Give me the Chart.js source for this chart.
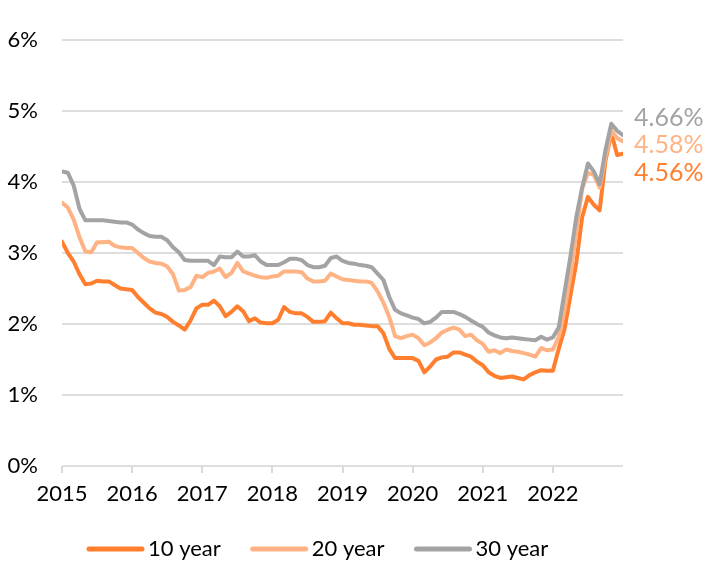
<!DOCTYPE html>
<html>
<head>
<meta charset="utf-8">
<script src="https://cdn.jsdelivr.net/npm/chart.js@4.4.0/dist/chart.umd.min.js"></script>
<style>
  html, body { margin: 0; padding: 0; background: #fff; }
  #wrap { width: 721px; height: 571px; }
</style>
</head>
<body>
<div id="wrap"><canvas id="yieldChart" width="721" height="571"></canvas></div>
<script>
// monthly readings, Jan 2015 .. Dec 2022 (+ closing value)
const startYear = 2015;
const years = [2015, 2016, 2017, 2018, 2019, 2020, 2021, 2022, 2023];
const seriesNames = ['10 year', '20 year', '30 year'];
const seriesColors = ['#FF7F2F', '#FFB384', '#A3A3A3'];

const tenYear = [
  3.16, 3.00, 2.88, 2.70, 2.56, 2.57, 2.61, 2.60, 2.60, 2.55, 2.50, 2.49,
  2.48, 2.38, 2.30, 2.22, 2.16, 2.14, 2.10, 2.03, 1.98, 1.92, 2.05, 2.22,
  2.27, 2.27, 2.33, 2.25, 2.11, 2.17, 2.25, 2.18, 2.04, 2.08, 2.02, 2.01,
  2.01, 2.06, 2.24, 2.17, 2.15, 2.15, 2.10, 2.03, 2.03, 2.04, 2.16, 2.08,
  2.01, 2.01, 1.99, 1.99, 1.98, 1.97, 1.97, 1.87, 1.65, 1.52, 1.52, 1.52,
  1.52, 1.48, 1.32, 1.40, 1.50, 1.53, 1.54, 1.60, 1.60, 1.57, 1.54, 1.47,
  1.42, 1.32, 1.27, 1.24, 1.25, 1.26, 1.24, 1.22, 1.28, 1.32, 1.35, 1.34,
  1.34, 1.65, 1.93, 2.40, 2.86, 3.50, 3.79, 3.68, 3.60, 4.30, 4.69, 4.38,
  4.40
];
const twentyYear = [
  3.71, 3.64, 3.47, 3.22, 3.02, 3.01, 3.15, 3.15, 3.16, 3.10, 3.08, 3.07,
  3.07, 3.00, 2.93, 2.88, 2.86, 2.85, 2.81, 2.70, 2.47, 2.48, 2.52, 2.68,
  2.66, 2.72, 2.74, 2.78, 2.66, 2.72, 2.86, 2.74, 2.71, 2.68, 2.66, 2.65,
  2.67, 2.68, 2.74, 2.74, 2.74, 2.73, 2.64, 2.60, 2.60, 2.61, 2.71, 2.67,
  2.63, 2.62, 2.61, 2.60, 2.60, 2.58, 2.46, 2.30, 2.10, 1.83, 1.80, 1.83,
  1.85, 1.80, 1.70, 1.74, 1.80, 1.88, 1.92, 1.95, 1.92, 1.83, 1.85, 1.77,
  1.72, 1.61, 1.63, 1.59, 1.64, 1.62, 1.61, 1.59, 1.57, 1.54, 1.66, 1.63,
  1.64, 1.82, 2.20, 2.68, 3.29, 3.90, 4.13, 4.10, 3.92, 4.35, 4.72, 4.62,
  4.57
];
const thirtyYear = [
  4.15, 4.13, 3.95, 3.62, 3.46, 3.46, 3.46, 3.46, 3.45, 3.44, 3.43, 3.43,
  3.40, 3.33, 3.28, 3.24, 3.23, 3.23, 3.18, 3.08, 3.01, 2.90, 2.89, 2.89,
  2.89, 2.89, 2.83, 2.95, 2.94, 2.94, 3.02, 2.95, 2.95, 2.97, 2.88, 2.83,
  2.83, 2.83, 2.87, 2.92, 2.92, 2.90, 2.83, 2.80, 2.80, 2.82, 2.93, 2.95,
  2.89, 2.86, 2.85, 2.83, 2.82, 2.80, 2.71, 2.62, 2.38, 2.20, 2.15, 2.12,
  2.09, 2.07, 2.01, 2.03, 2.09, 2.17, 2.17, 2.17, 2.14, 2.10, 2.05, 2.00,
  1.96, 1.88, 1.84, 1.81, 1.80, 1.81, 1.80, 1.79, 1.78, 1.77, 1.82, 1.78,
  1.81, 1.95, 2.45, 2.95, 3.50, 3.92, 4.26, 4.15, 3.97, 4.45, 4.82, 4.72,
  4.66
];
const endLabels = ['4.56%', '4.58%', '4.66%'];
const endLabelAt = [4.13, 4.52, 4.90]; // where the right-hand labels sit (axis value)

const FONT = 'Lato, "Open Sans", sans-serif';

function toPoints(values) {
  return values.map((v, i) => ({ x: startYear + i / 12, y: v }));
}

// right-hand closing values
const endLabelPlugin = {
  id: 'endLabels',
  afterDraw(chart) {
    const ctx = chart.ctx;
    const yScale = chart.scales.y;
    ctx.save();
    ctx.font = '25px ' + FONT;
    ctx.textAlign = 'left';
    ctx.textBaseline = 'middle';
    endLabels.forEach((txt, i) => {
      ctx.fillStyle = seriesColors[i];
      ctx.fillText(txt, chart.chartArea.right + 11, yScale.getPixelForValue(endLabelAt[i]));
    });
    ctx.restore();
  }
};

// legend drawn by hand so the swatch/text gaps match the original
const legendPlugin = {
  id: 'lineLegend',
  afterDraw(chart) {
    const ctx = chart.ctx;
    ctx.save();
    ctx.font = '22px ' + FONT;
    ctx.textBaseline = 'middle';
    ctx.textAlign = 'left';
    let x = 89;
    const y = 549;
    seriesNames.forEach((name, i) => {
      ctx.strokeStyle = seriesColors[i];
      ctx.lineWidth = 5;
      ctx.lineCap = 'round';
      ctx.beginPath();
      ctx.moveTo(x, y);
      ctx.lineTo(x + 53, y);
      ctx.stroke();
      ctx.fillStyle = '#000';
      ctx.fillText(name, x + 59, y);
      x += 59 + ctx.measureText(name).width + 32;
    });
    ctx.restore();
  }
};

const allSeries = [tenYear, twentyYear, thirtyYear];

new Chart(document.getElementById('yieldChart'), {
  type: 'line',
  data: {
    datasets: allSeries.map((vals, i) => ({
      label: seriesNames[i],
      data: toPoints(vals),
      borderColor: seriesColors[i],
      backgroundColor: seriesColors[i],
      borderWidth: 4,
      pointRadius: 0,
      tension: 0,
      borderJoinStyle: 'round',
      borderCapStyle: 'round',
      order: 3 - i
    }))
  },
  options: {
    responsive: false,
    animation: false,
    layout: { padding: { top: 40, right: 98, left: 0, bottom: 56 } },
    plugins: {
      tooltip: { enabled: false },
      legend: { display: false }
    },
    scales: {
      x: {
        type: 'linear',
        min: years[0],
        max: years[years.length - 1],
        afterFit(s) { s.height = 49; },
        afterBuildTicks(s) { s.ticks = years.map(y => ({ value: y })); },
        ticks: {
          font: { family: FONT, size: 22 },
          color: '#000',
          padding: 8,
          maxRotation: 0,
          callback: v => (v === years[years.length - 1] ? '' : String(v))
        },
        grid: {
          drawOnChartArea: false,
          drawTicks: true,
          tickLength: 7,
          lineWidth: 2,
          color: ctx => (ctx.tick && ctx.tick.value === years[years.length - 1] ? 'rgba(0,0,0,0)' : '#d9d9d9')
        },
        border: { display: false }
      },
      y: {
        min: 0,
        max: 6,
        afterFit(s) { s.width = 62; },
        ticks: {
          stepSize: 1,
          font: { family: FONT, size: 22 },
          color: '#000',
          padding: 24,
          callback: v => v + '%'
        },
        grid: { color: '#dedede', lineWidth: 2, drawTicks: false },
        border: { display: false }
      }
    }
  },
  plugins: [endLabelPlugin, legendPlugin]
});
</script>
</body>
</html>
